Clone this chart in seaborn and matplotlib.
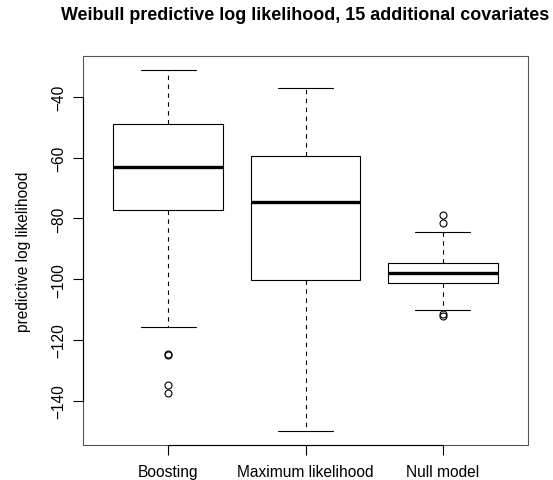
import matplotlib
matplotlib.use("Agg")
import matplotlib.pyplot as plt
import matplotlib.patches as mpatches
import numpy as np
import pandas as pd
import seaborn as sns

# Summary statistics for each method (Tukey-style box plot)
methods = ["Boosting", "Maximum likelihood", "Null model"]
whisker_low = [-115.7, -149.8, -110.0]
quartile_1 = [-77.4, -100.2, -101.2]
medians = [-63.1, -74.7, -97.9]
quartile_3 = [-48.9, -59.5, -94.5]
whisker_high = [-31.3, -37.2, -84.6]
outliers_low = [[-137.3, -134.7, -124.9, -124.6], [], [-112.2, -111.5]]
outliers_high = [[], [], [-81.5, -79.0]]

y_ticks = [-140, -120, -100, -80, -60, -40]


def sample_from_summary(lo, q1, med, q3, hi, out_lo, out_hi):
    """Ordered values whose linear-interpolated quartiles and 1.5*IQR whiskers
    reproduce the given five-number summary and outliers."""
    k = max(len(out_lo), len(out_hi)) + 1
    vals = list(sorted(out_lo))
    vals += [lo] * (k - len(out_lo))
    vals += [q1] * k
    vals += [med]
    vals += [q3] * k
    vals += [hi] * (k - len(out_hi))
    vals += list(sorted(out_hi))
    return vals


rows = []
for i, m in enumerate(methods):
    for v in sample_from_summary(whisker_low[i], quartile_1[i], medians[i],
                                 quartile_3[i], whisker_high[i],
                                 outliers_low[i], outliers_high[i]):
        rows.append({"method": m, "value": v})
df = pd.DataFrame(rows)

sns.set_theme(style="white")
plt.rcParams["font.family"] = ["Liberation Sans", "DejaVu Sans"]
plt.rcParams["axes.unicode_minus"] = True
for key in ["text.color", "axes.labelcolor", "xtick.color", "ytick.color"]:
    plt.rcParams[key] = "black"

fig = plt.figure(figsize=(5.53, 4.81), dpi=100)
ax = fig.add_axes([0.150, 0.0728, 0.805, 0.8087])

sns.boxplot(
    data=df, x="method", y="value", order=methods, ax=ax,
    width=0.8, color="white", saturation=1, linecolor="black", linewidth=0.8,
    whis=1.5,
    whiskerprops=dict(linestyle=(0, (4, 4)), linewidth=0.8),
    capprops=dict(linewidth=0.8),
    medianprops=dict(linewidth=2.4, color="black"),
    flierprops=dict(marker="o", markerfacecolor="none", markeredgecolor="black",
                    markersize=5.0, markeredgewidth=0.8),
)

label_size = 11.2
ax.set_xlim(-0.62, 2.62)
ax.set_ylim(-154.5, -26.6)
ax.set_yticks(y_ticks)
ax.set_yticklabels([str(t).replace("-", "\u2212") for t in y_ticks],
                   rotation=90, va="center", fontsize=label_size)
ax.set_xticks(range(len(methods)))
ax.set_xticklabels(methods, fontsize=label_size)
ax.set_xlabel("")
ax.set_ylabel("predictive log likelihood", fontsize=label_size, labelpad=14.5)
ax.tick_params(axis="both", which="both", direction="out", length=7.2,
               width=0.8, color="black", labelcolor="black",
               left=True, bottom=True)
ax.tick_params(axis="x", pad=6.5)
ax.tick_params(axis="y", pad=5.0)

# Frame around the plotting region, axis lines only span the ticks
frame = mpatches.Rectangle((0, 0), 1, 1, transform=ax.transAxes, fill=False,
                           edgecolor="#555555", linewidth=0.8, zorder=5,
                           clip_on=False)
ax.add_patch(frame)
for side in ["top", "right"]:
    ax.spines[side].set_visible(False)
ax.spines["left"].set_bounds(y_ticks[0], y_ticks[-1])
ax.spines["bottom"].set_bounds(0, len(methods) - 1)
for side in ["left", "bottom"]:
    ax.spines[side].set_color("black")
    ax.spines[side].set_linewidth(0.8)
    ax.spines[side].set_zorder(6)

fig.suptitle("Weibull predictive log likelihood, 15 additional covariates",
             x=0.5525, y=0.985, fontsize=12.85, fontweight="bold", va="top")

fig.savefig("out.png", dpi=100, facecolor="white")
